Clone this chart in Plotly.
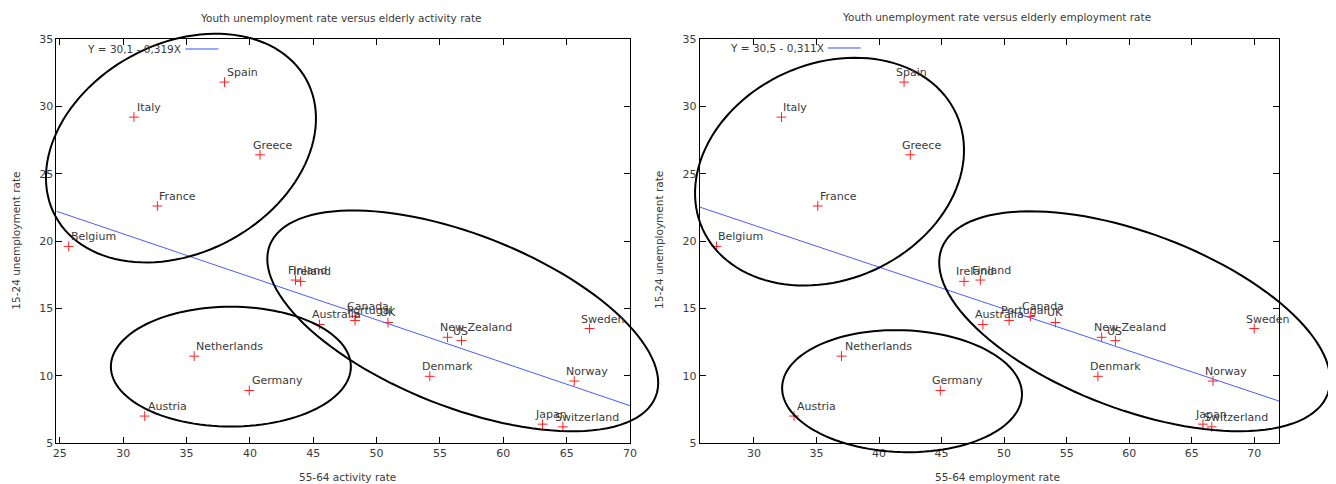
import numpy as np
import plotly.graph_objects as go

# ---------------- data ----------------
countries = ["Spain", "Italy", "Greece", "France", "Belgium", "Finland", "Ireland",
             "Australia", "Canada", "Portugal", "UK", "New Zealand", "US", "Denmark",
             "Sweden", "Norway", "Japan", "Switzerland", "Netherlands", "Germany", "Austria"]
youth_unemployment = [31.8, 29.2, 26.4, 22.6, 19.6, 17.1, 17.0,
                      13.8, 14.4, 14.1, 13.95, 12.85, 12.6, 9.95,
                      13.5, 9.6, 6.4, 6.2, 11.45, 8.9, 7.0]
activity_rate = [38.0, 30.85, 40.8, 32.7, 25.7, 43.6, 44.0,
                 45.5, 48.3, 48.3, 50.9, 55.6, 56.7, 54.2,
                 66.8, 65.6, 63.1, 64.7, 35.6, 39.95, 31.7]
employment_rate = [42.0, 32.2, 42.5, 35.1, 27.0, 48.1, 46.8,
                   48.3, 52.1, 50.4, 54.1, 57.8, 58.9, 57.5,
                   70.0, 66.7, 65.9, 66.6, 37.0, 44.9, 33.2]
fit_intercept = [30.1, 30.5]
fit_slope = [-0.319, -0.311]
fit_labels = ["Y = 30,1 - 0,319X", "Y = 30,5 - 0,311X"]
titles = ["Youth unemployment rate versus elderly activity rate",
          "Youth unemployment rate versus elderly employment rate"]
x_titles = ["55-64 activity rate", "55-64 employment rate"]
y_title = "15-24 unemployment rate"

# ---------------- layout geometry ----------------
# the page body has an 8px margin: the figure starts at page (8, 8)
OFF = 8
PAGE_W, PAGE_H = 1336, 484
W, H = PAGE_W - OFF, PAGE_H - OFF
PLOT_TOP, PLOT_BOTTOM = 38.5, 443          # page pixels
MT, MB = PLOT_TOP - OFF, PAGE_H - PLOT_BOTTOM
PH = H - MT - MB
dom_px = [[56.4, 630.0], [699.7, 1279.0]]  # page pixels
domains = [[(a - OFF) / W, (b - OFF) / W] for a, b in dom_px]
xranges = [[24.73, 70], [25.66, 71.98]]
yrange = [5, 35]

# label shifts (px) per panel; default -10
label_shift = [
    {"Spain": 0, "Italy": 1, "Greece": -9, "France": 0, "Belgium": 0,
     "Netherlands": 0, "Germany": 1, "Austria": 1},
    {"Italy": 0, "France": 0, "Belgium": 0, "Netherlands": 1, "Austria": 1},
]

# ellipses: center in data coords, semi-axes (px), rotation (deg, ccw on screen)
ellipses = [
    [((34.56, 26.9), 142.9, 104.5, 28.7),
     ((38.5, 10.67), 120, 60, 0),
     ((56.8, 14.07), 207.3, 86.3, -21.5)],
    [((36.04, 25.15), 139.3, 108.1, 24.4),
     ((41.84, 8.85), 120, 61, -2),
     ((60.44, 14.04), 206.3, 88.2, -20.7)],
]


def to_px(panel, x, y):
    """data -> page pixels"""
    d = dom_px[panel]
    xr = xranges[panel]
    px = d[0] + (x - xr[0]) / (xr[1] - xr[0]) * (d[1] - d[0])
    py = PLOT_BOTTOM - (y - yrange[0]) / (yrange[1] - yrange[0]) * (PLOT_BOTTOM - PLOT_TOP)
    return px, py


def paper(px, py):
    """page pixels -> paper coords"""
    return (px - OFF) / W, (PLOT_BOTTOM - py) / PH


fig = go.Figure()
font = "DejaVu Sans, Verdana, sans-serif"
txtcol = "#3a3a3a"
annotations = []
shapes = []

xs_sets = [activity_rate, employment_rate]
for i in range(2):
    xa = "x" if i == 0 else "x2"
    ya = "y" if i == 0 else "y2"
    xs = xs_sets[i]
    fig.add_trace(go.Scatter(
        x=xs, y=youth_unemployment, mode="markers", xaxis=xa, yaxis=ya,
        marker=dict(symbol="cross-thin", size=7, line=dict(color="#ff2020", width=1)),
        hoverinfo="text", text=countries, showlegend=False))
    xr = xranges[i]
    fx = np.array(xr)
    fy = fit_intercept[i] + fit_slope[i] * fx
    fig.add_trace(go.Scatter(
        x=fx, y=fy, mode="lines", xaxis=xa, yaxis=ya,
        line=dict(color="#4a5cff", width=1), showlegend=False, hoverinfo="skip"))
    for c, xv, yv in zip(countries, xs, youth_unemployment):
        annotations.append(dict(
            x=xv, y=yv, xref=xa, yref=ya, text=c, showarrow=False,
            xanchor="left", yanchor="bottom", xshift=label_shift[i].get(c, -10), yshift=1,
            font=dict(family=font, size=11, color=txtcol)))
    # title & axis titles
    cx = (dom_px[i][0] + dom_px[i][1]) / 2
    tx, ty = paper(cx - 3 + 10 * i, 17 - i)
    annotations.append(dict(x=tx, y=ty, xref="paper", yref="paper", text=titles[i],
                            showarrow=False, xanchor="center", yanchor="middle",
                            font=dict(family=font, size=10.5, color=txtcol)))
    tx, ty = paper(cx + 4 + 4 * i, 477)
    annotations.append(dict(x=tx, y=ty, xref="paper", yref="paper", text=x_titles[i],
                            showarrow=False, xanchor="center", yanchor="middle",
                            font=dict(family=font, size=10.5, color=txtcol)))
    tx, ty = paper(dom_px[i][0] - 40, 240)
    annotations.append(dict(x=tx, y=ty, xref="paper", yref="paper", text=y_title,
                            showarrow=False, xanchor="center", yanchor="middle", textangle=-90,
                            font=dict(family=font, size=10.5, color=txtcol)))
    # fit key
    kx = dom_px[i][0] + 127 - 1 * i
    ky = 48.5 - 1 * i
    tx, ty = paper(kx, ky)
    annotations.append(dict(x=tx, y=ty, xref="paper", yref="paper", text=fit_labels[i],
                            showarrow=False, xanchor="right", yanchor="middle",
                            font=dict(family=font, size=10.5, color=txtcol)))
    x0, y0 = paper(kx + 2, ky)
    x1, _ = paper(kx + 35, ky)
    shapes.append(dict(type="line", xref="paper", yref="paper", x0=x0, x1=x1, y0=y0, y1=y0,
                       line=dict(color="#3050ff", width=1)))
    # ellipses
    for (ctr, a, b, ang) in ellipses[i]:
        cpx, cpy = to_px(i, ctr[0], ctr[1])
        t = np.linspace(0, 2 * np.pi, 121)
        ph = np.radians(ang)
        ex = cpx + a * np.cos(t) * np.cos(ph) - b * np.sin(t) * np.sin(ph)
        ey = cpy - (a * np.cos(t) * np.sin(ph) + b * np.sin(t) * np.cos(ph))
        pts = [paper(u, v) for u, v in zip(ex, ey)]
        path = "M " + " L ".join(f"{p[0]:.5f},{p[1]:.5f}" for p in pts) + " Z"
        shapes.append(dict(type="path", xref="paper", yref="paper", path=path,
                           line=dict(color="black", width=2)))

axis_common = dict(showline=True, linecolor="black", linewidth=1, mirror="ticks",
                   ticks="inside", ticklen=6, tickcolor="black", showgrid=False,
                   zeroline=False, automargin=False,
                   tickfont=dict(family=font, size=11, color=txtcol))

fig.update_layout(
    width=W, height=H, margin=dict(l=0, r=0, t=MT, b=MB, autoexpand=False),
    plot_bgcolor="white", paper_bgcolor="white",
    xaxis=dict(domain=domains[0], range=xranges[0], tick0=0, dtick=5, anchor="y", **axis_common),
    yaxis=dict(domain=[0, 1], range=yrange, tick0=0, dtick=5, anchor="x", **axis_common),
    xaxis2=dict(domain=domains[1], range=xranges[1], tick0=0, dtick=5, anchor="y2", **axis_common),
    yaxis2=dict(domain=[0, 1], range=yrange, tick0=0, dtick=5, anchor="x2", **axis_common),
    annotations=annotations, shapes=shapes, showlegend=False,
)

fig.write_html("out.html")
